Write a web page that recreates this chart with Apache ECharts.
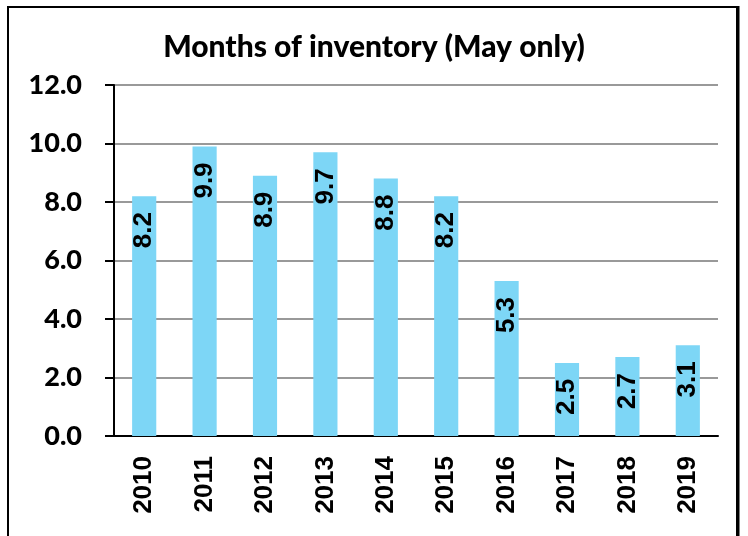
<!DOCTYPE html>
<html><head><meta charset="utf-8">
<script src="https://cdn.jsdelivr.net/npm/echarts@6/dist/echarts.min.js"></script>
<style>html,body{margin:0;padding:0;background:#fff}#c{width:748px;height:536px}</style>
</head><body><div id="c"></div>
<script>
const titleText = 'Months of inventory (May only)';
const years = ['2010','2011','2012','2013','2014','2015','2016','2017','2018','2019'];
const inventory = [8.2, 9.9, 8.9, 9.7, 8.8, 8.2, 5.3, 2.5, 2.7, 3.1];
const yTicks = {min: 0, max: 12, interval: 2};

const chart = echarts.init(document.getElementById('c'));
chart.setOption({
  animation: false,
  title: {text: titleText, left: 'center', top: 27, textStyle: {fontFamily: 'Lato', fontWeight: 900, fontSize: 30, color: '#000'}},
  graphic: [
    {type: 'rect', shape: {x: 8, y: 7, width: 729, height: 540}, style: {fill: 'none', stroke: '#000', lineWidth: 2}},
    {type: 'line', shape: {x1: 738, y1: 6, x2: 738, y2: 536}, style: {stroke: '#000', lineWidth: 3}}
  ],
  grid: {left: 114, right: 30, top: 85, bottom: 100},
  xAxis: {
    type: 'category', data: years,
    axisLine: {lineStyle: {color: '#000', width: 2}},
    axisTick: {length: 10, lineStyle: {color: '#000', width: 2}},
    axisLabel: {rotate: 90, margin: 20, fontFamily: 'Liberation Sans', fontWeight: 'bold', fontSize: 26, color: '#000'}
  },
  yAxis: {
    type: 'value', min: yTicks.min, max: yTicks.max, interval: yTicks.interval,
    axisLine: {show: true, lineStyle: {color: '#000', width: 2}},
    axisTick: {show: true, inside: false, length: 9, lineStyle: {color: '#000', width: 2}},
    splitLine: {lineStyle: {color: '#999', width: 2}},
    axisLabel: {margin: 32, formatter: v => v.toFixed(1), fontFamily: 'Lato', fontWeight: 900, fontSize: 27, color: '#000'}
  },
  series: [{
    type: 'bar', data: inventory, barWidth: '40%',
    itemStyle: {color: '#7DD6F6'},
    label: {show: true, position: 'insideTop', distance: 16, rotate: 90, align: 'right', verticalAlign: 'middle',
      formatter: p => p.value.toFixed(1), fontFamily: 'Liberation Sans', fontWeight: 'bold', fontSize: 26, color: '#000'}
  }]
});
</script></body></html>
